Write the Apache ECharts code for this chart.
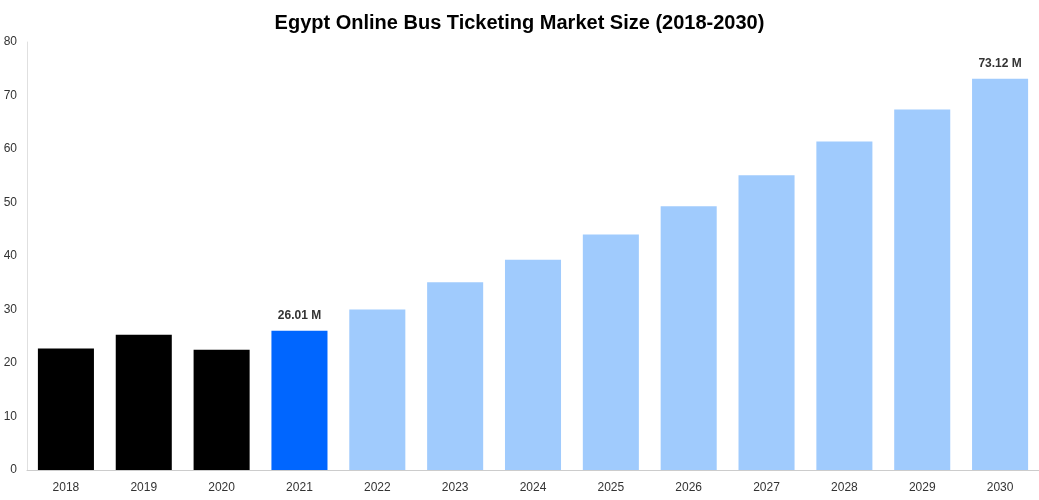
<!DOCTYPE html>
<html><head><meta charset="utf-8">
<script src="https://cdn.jsdelivr.net/npm/echarts@6/dist/echarts.min.js"></script>
<style>html,body{margin:0;padding:0;background:#fff}#c{width:1039px;height:500px}</style>
</head><body><div id="c"></div>
<script>
const categories = ['2018','2019','2020','2021','2022','2023','2024','2025','2026','2027','2028','2029','2030'];
const values = [22.7, 25.3, 22.5, 26.01, 30.0, 35.1, 39.3, 44.0, 49.3, 55.1, 61.4, 67.4, 73.12];
const colors = ['#000000','#000000','#000000','#0066ff','#a0cbfd','#a0cbfd','#a0cbfd','#a0cbfd','#a0cbfd','#a0cbfd','#a0cbfd','#a0cbfd','#a0cbfd'];
const labelled = {3:'26.01 M', 12:'73.12 M'};
const chart = echarts.init(document.getElementById('c'));
chart.setOption({
  animation:false,
  title:{text:'Egypt Online Bus Ticketing Market Size (2018-2030)',left:'center',top:8,
    textStyle:{fontFamily:'Liberation Sans, Arial',fontSize:20,fontWeight:'bold',color:'#000'}},
  grid:{left:27,right:0,top:42,bottom:30},
  xAxis:{type:'category',data:categories,
    axisLine:{lineStyle:{color:'#ccc'}},axisTick:{show:false},
    axisLabel:{color:'#333',fontSize:12,fontFamily:'Liberation Sans, Arial',margin:12}},
  yAxis:{type:'value',min:0,max:80,interval:10,
    axisLine:{show:true,lineStyle:{color:'#e0e0e0'}},splitLine:{show:false},
    axisLabel:{color:'#333',fontSize:12,fontFamily:'Liberation Sans, Arial',margin:10}},
  series:[{type:'bar',barWidth:'72%',
    data:values.map((v,i)=>({value:v,itemStyle:{color:colors[i]},
      label:{show:!!labelled[i],position:'top',distance:9,formatter:labelled[i]||'',
        fontWeight:'bold',fontSize:12,color:'#333',fontFamily:'Liberation Sans, Arial'}}))}]
});
</script></body></html>
